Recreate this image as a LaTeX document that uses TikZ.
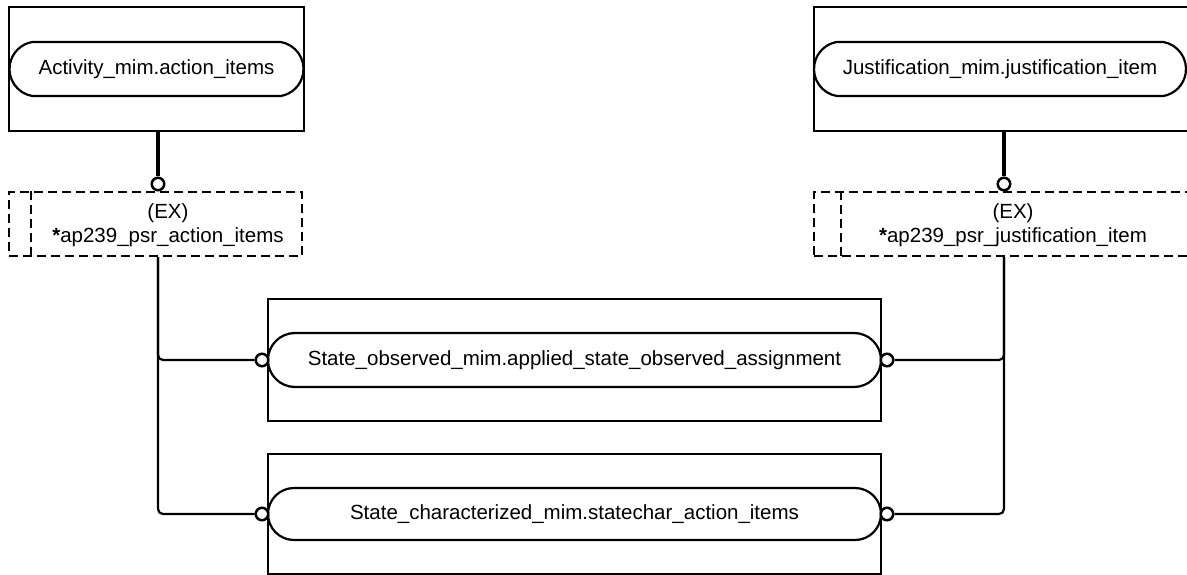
\documentclass[tikz,border=0pt]{standalone}
\usepackage{fontspec}
\setmainfont{Liberation Sans}
\usetikzlibrary{shapes.misc,calc}
\begin{document}
\begin{tikzpicture}[x=1pt,y=-1pt,
  font=\fontsize{20.5}{24}\selectfont,
  box/.style={draw, line width=2.2pt, rectangle, inner sep=0pt},
  pill/.style={draw, line width=2.2pt, rounded rectangle, rounded rectangle arc length=#1, inner sep=0pt, fill=white},
  pill/.default=180,
  exbox/.style={draw, line width=2.2pt, dash pattern=on 9pt off 5pt, rectangle, inner sep=0pt},
  exdiv/.style={line width=2.2pt, dash pattern=on 9pt off 5pt},
  ring/.style={draw, circle, line width=2.5pt, minimum size=12.5pt, inner sep=0pt, fill=white},
  heavy/.style={line width=4.5pt},
  conn/.style={line width=2.2pt, rounded corners=5pt},
  lbl/.style={align=center, inner sep=0pt}]
\useasboundingbox (0,0) rectangle (1187,575);

% top left entity
\node[box, minimum width=295pt, minimum height=124pt] (boxA) at (156.5,69) {};
\node[pill=160, minimum width=294pt, minimum height=54pt] (pillA) at (156.5,69) {Activity\_mim.action\_items};
% top right entity
\node[box, minimum width=375pt, minimum height=124pt] (boxB) at (1001.5,69) {};
\node[pill=160, minimum width=372pt, minimum height=54pt] (pillB) at (1000,69) {Justification\_mim.justification\_item};

% extension boxes
\node[exbox, minimum width=293pt, minimum height=64pt] (exA) at (155.5,224) {};
\draw[exdiv] ($(exA.north west)+(23,0)$) -- ($(exA.south west)+(23,0)$);
\node[lbl] (exAt) at (168,225) {(EX)\\\textbf{*}ap239\_psr\_action\_items};
\node[exbox, minimum width=375pt, minimum height=64pt] (exB) at (1001.5,224) {};
\draw[exdiv] ($(exB.north west)+(28,0)$) -- ($(exB.south west)+(28,0)$);
\node[lbl] (exBt) at (1013,225) {(EX)\\\textbf{*}ap239\_psr\_justification\_item};

% heavy links with rings
\node[ring] (cA) at (158,184) {};
\node[ring] (cB) at (1004,184) {};
\draw[heavy] (boxA.south -| cA) -- (cA.north);
\draw[heavy] (boxB.south -| cB) -- (cB.north);

% middle entities
\node[box, minimum width=613pt, minimum height=122pt] (boxC) at (574.5,360) {};
\node[pill, minimum width=613pt, minimum height=54pt] (pillC) at (574.5,360) {State\_observed\_mim.applied\_state\_observed\_assignment};
\node[box, minimum width=613pt, minimum height=120pt] (boxD) at (574.5,514) {};
\node[pill, minimum width=613pt, minimum height=52pt] (pillD) at (574.5,514) {State\_characterized\_mim.statechar\_action\_items};

\node[ring] (cCL) at (262,360) {};
\node[ring] (cCR) at (887,360) {};
\node[ring] (cDL) at (262,514) {};
\node[ring] (cDR) at (887,514) {};

% connectors
\draw[conn] (exA.south -| cA) |- (cCL.west);
\draw[conn] (exA.south -| cA) |- (cDL.west);
\draw[conn] (exB.south -| cB) |- (cCR.east);
\draw[conn] (exB.south -| cB) |- (cDR.east);
\end{tikzpicture}
\end{document}
